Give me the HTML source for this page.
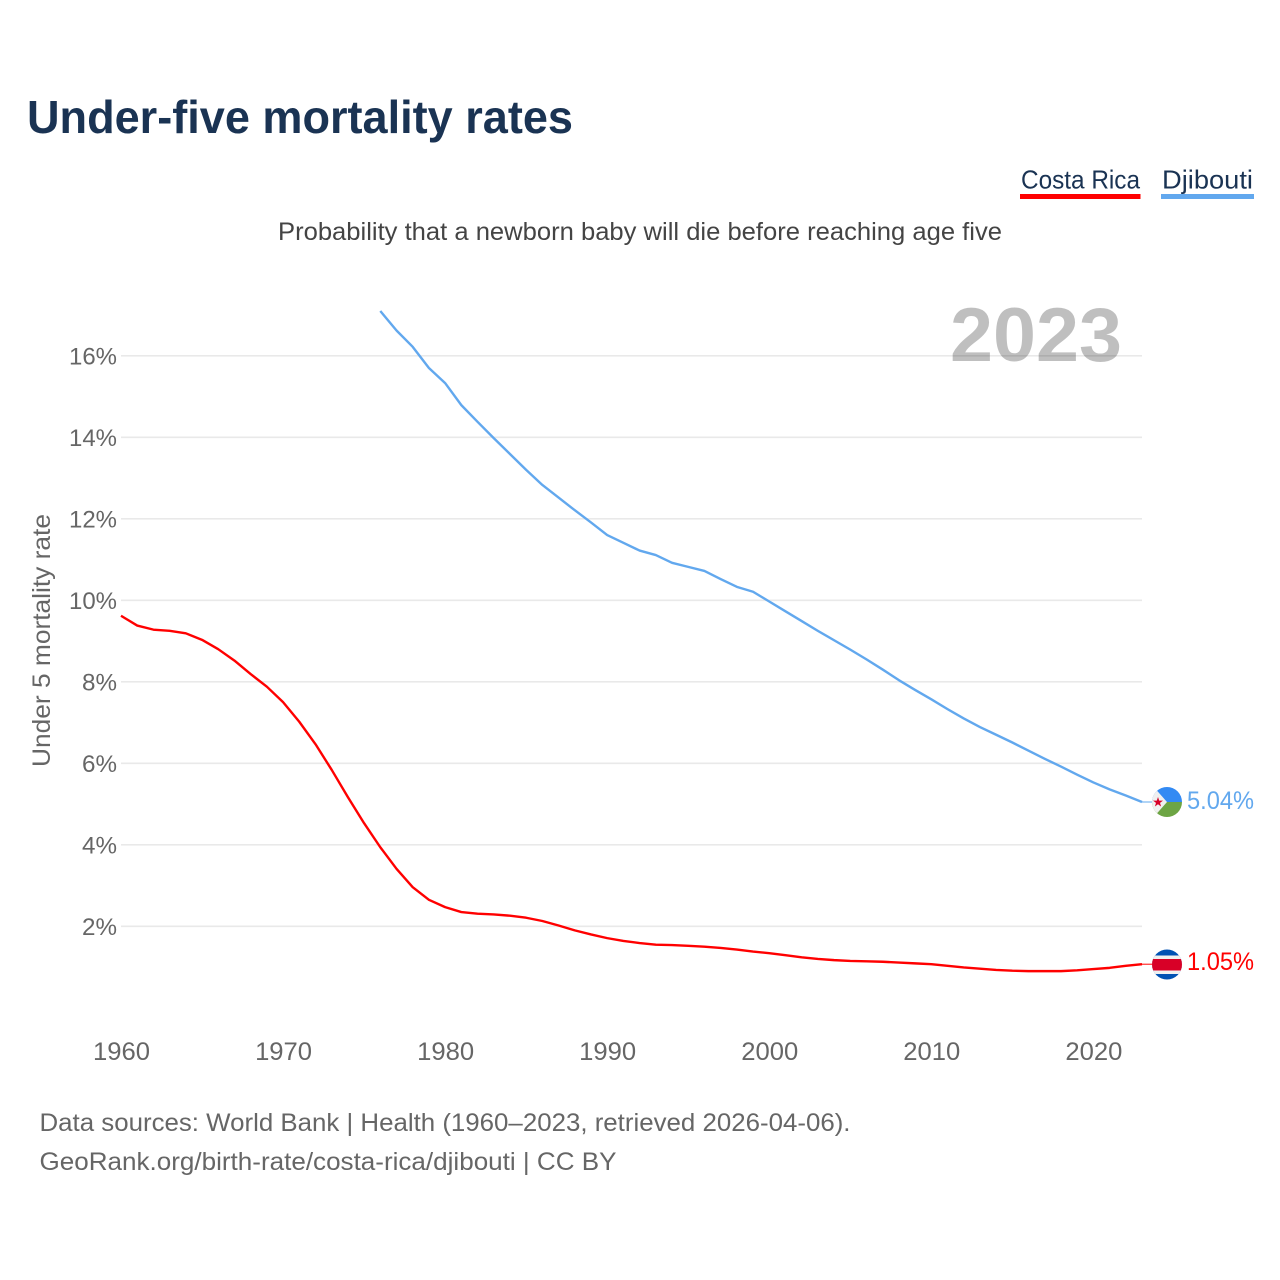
<!DOCTYPE html>
<html lang="en">
<head>
<meta charset="utf-8">
<title>Under-five mortality rates</title>
<style>
html,body{margin:0;padding:0;background:#fff;}
svg{display:block;font-family:"Liberation Sans",sans-serif;}
</style>
</head>
<body>
<svg id="chart" xmlns="http://www.w3.org/2000/svg" width="1280" height="1280" viewBox="0 0 1280 1280">
  <defs>
    <clipPath id="flag-clip-dj"><circle cx="1167" cy="802" r="15"/></clipPath>
    <clipPath id="flag-clip-cr"><circle cx="1167" cy="964.5" r="15"/></clipPath>
  </defs>
  <rect width="1280" height="1280" fill="#fff"/>
  <text x="27" y="133" font-size="46" font-weight="700" fill="#1a3353" textLength="546" lengthAdjust="spacingAndGlyphs">Under-five mortality rates</text>
  <text x="278" y="240" font-size="25" fill="#444444" textLength="724" lengthAdjust="spacingAndGlyphs">Probability that a newborn baby will die before reaching age five</text>

  <g>
    <text x="1021" y="188.5" font-size="26" fill="#1a3353" textLength="119" lengthAdjust="spacingAndGlyphs">Costa Rica</text>
    <rect x="1020" y="194" width="120.5" height="5" fill="#ff0000"/>
  </g>
  <g>
    <text x="1162" y="188.5" font-size="26" fill="#1a3353" textLength="91" lengthAdjust="spacingAndGlyphs">Djibouti</text>
    <rect x="1161" y="194" width="93" height="5" fill="#62a8ee"/>
  </g>

  <g id="grid"></g>
  <g id="y-ticks"></g>
  <g id="x-ticks"></g>

  <text transform="translate(50,767) rotate(-90)" font-size="25" fill="#666666" textLength="253" lengthAdjust="spacingAndGlyphs">Under 5 mortality rate</text>

  <text x="950" y="361" font-size="76" font-weight="700" fill="#000000" fill-opacity="0.25" textLength="172" lengthAdjust="spacingAndGlyphs">2023</text>

  <g id="series"></g>

  <g clip-path="url(#flag-clip-dj)">
    <rect x="1152" y="787" width="30" height="15" fill="#338af3"/>
    <rect x="1152" y="802" width="30" height="15" fill="#6da544"/>
    <polygon points="1152,785 1167,802 1152,819" fill="#f0f0f0"/>
    <polygon points="1158,797 1159.2,800.6 1163,800.6 1160,802.9 1161.1,806.5 1158,804.3 1154.9,806.5 1156,802.9 1153,800.6 1156.8,800.6" fill="#d80027"/>
  </g>
  <g clip-path="url(#flag-clip-cr)">
    <rect x="1152" y="949" width="30" height="31" fill="#0052b4"/>
    <rect x="1152" y="955.5" width="30" height="18.5" fill="#f0f0f0"/>
    <rect x="1152" y="959" width="30" height="11.5" fill="#d80027"/>
  </g>

  <text x="39.5" y="1131" font-size="25" fill="#666666" textLength="811" lengthAdjust="spacingAndGlyphs">Data sources: World Bank | Health (1960–2023, retrieved 2026-04-06).</text>
  <text x="39.5" y="1170" font-size="25" fill="#666666" textLength="577" lengthAdjust="spacingAndGlyphs">GeoRank.org/birth-rate/costa-rica/djibouti | CC BY</text>
</svg>
<script>
const yTickValues = [2, 4, 6, 8, 10, 12, 14, 16];
const xTickYears = [1960, 1970, 1980, 1990, 2000, 2010, 2020];
const costaRicaStartYear = 1960;
const costaRicaValues = [
  9.62, 9.38, 9.28, 9.25, 9.19, 9.03, 8.80, 8.52, 8.19, 7.88,
  7.50, 7.02, 6.47, 5.84, 5.17, 4.53, 3.94, 3.41, 2.96, 2.65,
  2.47, 2.35, 2.31, 2.29, 2.26, 2.21, 2.13, 2.02, 1.90, 1.80,
  1.71, 1.64, 1.59, 1.55, 1.54, 1.52, 1.50, 1.47, 1.43, 1.38,
  1.34, 1.29, 1.24, 1.20, 1.17, 1.15, 1.14, 1.13, 1.11, 1.09,
  1.07, 1.03, 0.99, 0.96, 0.93, 0.91, 0.90, 0.90, 0.90, 0.92,
  0.95, 0.98, 1.03, 1.07
];
const djiboutiStartYear = 1976;
const djiboutiValues = [
  17.10, 16.62, 16.22, 15.70, 15.33, 14.79, 14.38, 13.98, 13.59, 13.20,
  12.83, 12.52, 12.21, 11.91, 11.60, 11.41, 11.22, 11.11, 10.92, 10.82,
  10.72, 10.52, 10.33, 10.21, 9.97, 9.73, 9.49, 9.25, 9.02, 8.79,
  8.55, 8.30, 8.04, 7.80, 7.57, 7.33, 7.10, 6.89, 6.70, 6.51,
  6.31, 6.11, 5.92, 5.72, 5.53, 5.36, 5.21, 5.05
];
const costaRicaLabel = "1.05%";
const djiboutiLabel = "5.04%";

const NS = "http://www.w3.org/2000/svg";
function xScale(year) { return 121 + (year - 1960) * (1142 - 121) / 63; }
function yScale(v) { return 926.3 - (v - 2) * 40.75; }
function make(tag, parent, attrs, text) {
  const el = document.createElementNS(NS, tag);
  for (const k in attrs) el.setAttribute(k, attrs[k]);
  if (text !== undefined) el.textContent = text;
  parent.appendChild(el);
  return el;
}
function linePath(startYear, values) {
  return values.map((v, i) => (i ? "L" : "M") + xScale(startYear + i).toFixed(2) + " " + yScale(v).toFixed(2)).join(" ");
}

const gridG = document.getElementById("grid");
const yG = document.getElementById("y-ticks");
yTickValues.forEach(v => {
  const line = make("line", gridG, { x1: 121, x2: 1142, y1: yScale(v), y2: yScale(v), stroke: "#e9e9e9", "stroke-width": 1.6 });
  
  
  const label = v + "%";
  const t = make("text", yG, { x: 117, y: yScale(v) + 8.5, "font-size": 24, fill: "#666666", "text-anchor": "end", textLength: label.length === 3 ? 48 : 35, lengthAdjust: "spacingAndGlyphs" }, label);
  
  
});

const xG = document.getElementById("x-ticks");
xTickYears.forEach(y => {
  const t = make("text", xG, { x: xScale(y) - 28, y: 1060, "font-size": 25, fill: "#666666", textLength: 57, lengthAdjust: "spacingAndGlyphs" }, String(y));
  
  
});

const sG = document.getElementById("series");

const crLine = make("path", sG, { d: linePath(costaRicaStartYear, costaRicaValues), fill: "none", stroke: "#ff0000", "stroke-width": 2.4, "stroke-linejoin": "round" });



const djLine = make("path", sG, { d: linePath(djiboutiStartYear, djiboutiValues), fill: "none", stroke: "#62a8ee", "stroke-width": 2.4, "stroke-linejoin": "round" });



const crLast = yScale(costaRicaValues[costaRicaValues.length - 1]);
const djLast = yScale(djiboutiValues[djiboutiValues.length - 1]);

const crConn = make("line", sG, { x1: xScale(2023), x2: 1152, y1: crLast, y2: crLast, stroke: "#ff0000", "stroke-width": 1 });



const djConn = make("line", sG, { x1: xScale(2023), x2: 1152, y1: djLast, y2: djLast, stroke: "#62a8ee", "stroke-width": 1 });



const crVal = make("text", sG, { x: 1187, y: crLast + 6, "font-size": 25, fill: "#ff0000", textLength: 67, lengthAdjust: "spacingAndGlyphs" }, costaRicaLabel);



const djVal = make("text", sG, { x: 1187, y: djLast + 7, "font-size": 25, fill: "#62a8ee", textLength: 67, lengthAdjust: "spacingAndGlyphs" }, djiboutiLabel);


</script>
</body>
</html>
